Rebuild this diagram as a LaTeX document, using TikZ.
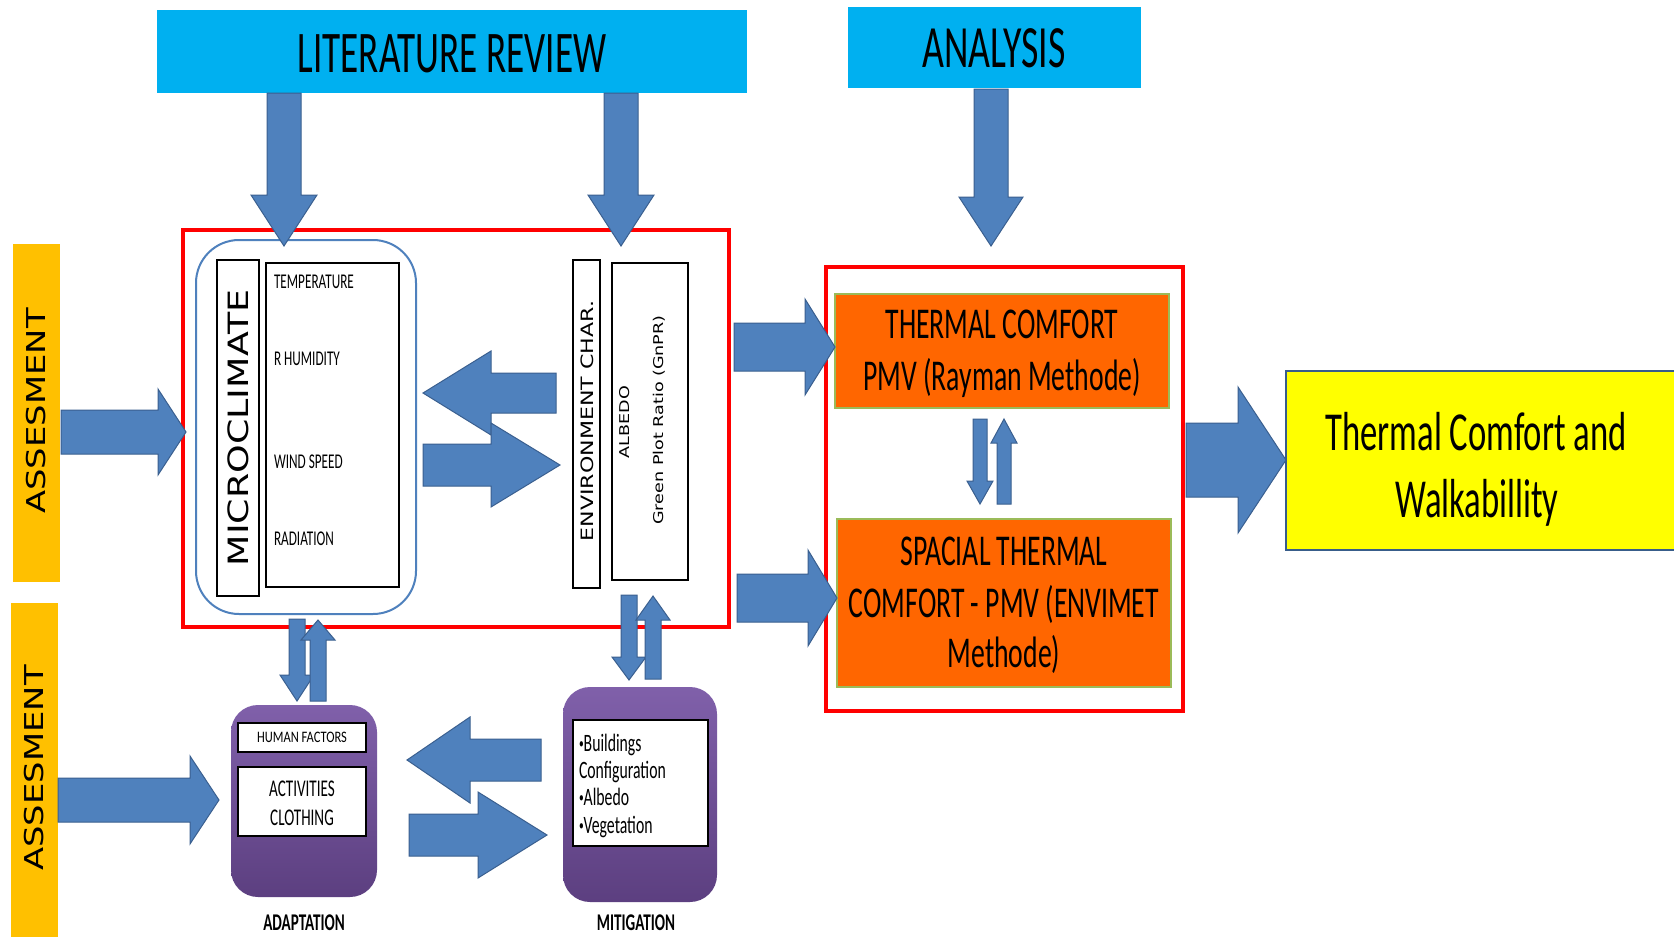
\documentclass[tikz,border=0pt]{standalone}
\usepackage{fontspec}
\setmainfont{Carlito}
\newfontfamily\condfont[FakeStretch=0.63]{Carlito}
\newfontfamily\midfont[FakeStretch=0.78]{Carlito}
\newfontfamily\widefont[FakeStretch=1.3]{DejaVu Sans}

\definecolor{cyanbox}{HTML}{00B0F0}
\definecolor{arrowfill}{HTML}{4F81BD}
\definecolor{arrowline}{HTML}{3A5F8F}
\definecolor{redline}{HTML}{FF0000}
\definecolor{orangebox}{HTML}{FF6600}
\definecolor{greenline}{HTML}{9BBB59}
\definecolor{yellowbox}{HTML}{FFFF00}
\definecolor{yellowline}{HTML}{385D8A}
\definecolor{ambox}{HTML}{FFC000}
\definecolor{purpletop}{HTML}{8060AA}
\definecolor{purplebot}{HTML}{5C3F80}
\definecolor{microline}{HTML}{4F81BD}

% small list bullet
\newcommand{\listdot}{{\fontsize{15}{15}\selectfont\raisebox{2.5pt}{\textbullet}}}

% horizontal block arrow: tail x, head base x, tip x, centre y, shaft half width, head half width
\newcommand{\blockh}[6]{%
  \filldraw[barrow] (#1,{#4-#5}) -- (#2,{#4-#5}) -- (#2,{#4-#6}) -- (#3,#4)
    -- (#2,{#4+#6}) -- (#2,{#4+#5}) -- (#1,{#4+#5}) -- cycle;}
% vertical block arrow: centre x, tail y, head base y, tip y, shaft half width, head half width
\newcommand{\blockv}[6]{%
  \filldraw[barrow] ({#1-#5},#2) -- ({#1-#5},#3) -- ({#1-#6},#3) -- (#1,#4)
    -- ({#1+#6},#3) -- ({#1+#5},#3) -- ({#1+#5},#2) -- cycle;}

\begin{document}
\begin{tikzpicture}[x=1pt,y=-1pt,
  barrow/.style={fill=arrowfill, draw=arrowline, line width=1pt, line join=miter},
  box/.style={rectangle, inner sep=0pt, outer sep=0pt},
  lbl/.style={inner sep=0pt, outer sep=0pt, anchor=base},
  lblw/.style={inner sep=0pt, outer sep=0pt, anchor=base west},
  rot/.style={inner sep=0pt, outer sep=0pt, anchor=center, rotate=90},
  blackbox/.style={box, draw=black, line width=2.5pt, fill=white},
  redframe/.style={box, draw=redline, line width=3.5pt},
  orange/.style={box, fill=orangebox, draw=greenline, line width=1.5pt},
  purplebox/.style={box, rounded corners=27pt, top color=purpletop, bottom color=purplebot},
  ambar/.style={box, fill=ambox},
]
\useasboundingbox (0,0) rectangle (1674,937);
\clip (0,0) rectangle (1674,937);
\fill[white] (0,0) rectangle (1674,937);

% ---------- headers ----------
\node[box, fill=cyanbox, minimum width=590pt, minimum height=83pt] (lit) at (452,51.5) {};
\node[lbl, font=\condfont\fontsize{59}{60}\selectfont] (littext) at (452,72) {LITERATURE REVIEW};
\node[box, fill=cyanbox, minimum width=293pt, minimum height=81pt] (ana) at (994.5,47.5) {};
\node[lbl, font=\condfont\fontsize{60}{60}\selectfont] (anatext) at (994,67) {ANALYSIS};

% ---------- assessment bars ----------
\node[ambar, minimum width=47pt, minimum height=338pt] (ass1) at (36.5,413) {};
\node[rot, font=\widefont\fontsize{26}{26}\selectfont] (ass1text) at (36.5,411) {ASSESMENT};
\node[ambar, minimum width=47pt, minimum height=342pt] (ass2) at (34.5,774) {};
\node[rot, font=\widefont\fontsize{26}{26}\selectfont] (ass2text) at (34.5,768) {ASSESMENT};

% ---------- microclimate / environment group ----------
\node[redframe, minimum width=546pt, minimum height=397pt] (red1) at (456,428.5) {};
\node[box, draw=microline, line width=2pt, rounded corners=43pt,
      minimum width=220pt, minimum height=374pt] (micro) at (306,427) {};
\node[blackbox, minimum width=42pt, minimum height=336pt] (microlbl) at (238,428) {};
\node[rot, font=\widefont\fontsize{28}{28}\selectfont] (microtext) at (238,428) {MICROCLIMATE};
\node[blackbox, minimum width=133pt, minimum height=324pt] (params) at (332.5,425) {};
\node[lblw, font=\condfont\fontsize{21}{21}\selectfont] (ptemp) at (274,288) {TEMPERATURE};
\node[lblw, font=\condfont\fontsize{21}{21}\selectfont] (phum) at (274,365) {R HUMIDITY};
\node[lblw, font=\condfont\fontsize{21}{21}\selectfont] (pwind) at (274,468) {WIND SPEED};
\node[lblw, font=\condfont\fontsize{21}{21}\selectfont] (prad) at (274,545) {RADIATION};

\node[blackbox, minimum width=27pt, minimum height=328pt] (env) at (586.5,424) {};
\node[rot, font=\widefont\fontsize{17}{17}\selectfont] (envtext) at (587,421) {ENVIRONMENT CHAR.};
\node[blackbox, minimum width=76pt, minimum height=317pt] (albedo) at (650,421.5) {};
\node[rot, font=\widefont\fontsize{13.5}{14}\selectfont] (albtext) at (625,422) {ALBEDO};
\node[rot, font=\widefont\fontsize{13.5}{14}\selectfont] (gnprtext) at (659,420) {Green Plot Ratio (GnPR)};

% ---------- thermal comfort group ----------
\node[redframe, minimum width=357pt, minimum height=444pt] (red2) at (1004.5,489) {};
\node[orange, minimum width=334pt, minimum height=114pt] (therm) at (1002,351) {};
\node[lbl, font=\condfont\fontsize{44}{44}\selectfont] (therm1) at (1002,338) {THERMAL COMFORT};
\node[lbl, font=\condfont\fontsize{44}{44}\selectfont] (therm2) at (1002,390) {PMV (Rayman Methode)};
\node[orange, minimum width=334pt, minimum height=168pt] (spac) at (1004,603) {};
\node[lbl, font=\condfont\fontsize{44}{44}\selectfont] (spac1) at (1004,565) {SPACIAL THERMAL};
\node[lbl, font=\condfont\fontsize{44}{44}\selectfont] (spac2) at (1004,617) {COMFORT - PMV (ENVIMET};
\node[lbl, font=\condfont\fontsize{44}{44}\selectfont] (spac3) at (1004,667) {Methode)};

% ---------- result ----------
\node[box, fill=yellowbox, draw=yellowline, line width=2pt,
      minimum width=404pt, minimum height=179pt] (result) at (1488,460.5) {};
\node[lbl, font=\condfont\fontsize{55}{55}\selectfont] (res1) at (1476,450) {Thermal Comfort and};
\node[lbl, font=\condfont\fontsize{55}{55}\selectfont] (res2) at (1477,517) {Walkabillity};

% ---------- adaptation ----------
\node[purplebox, minimum width=146pt, minimum height=192pt] (adapt) at (304,801) {};
\node[blackbox, line width=2pt, minimum width=128pt, minimum height=29pt] (hf) at (302,737.5) {};
\node[lbl, font=\midfont\fontsize{16}{16}\selectfont] (hftext) at (302,742) {HUMAN FACTORS};
\node[blackbox, line width=2pt, minimum width=128pt, minimum height=69pt] (act) at (302,801.5) {};
\node[lbl, font=\condfont\fontsize{24}{24}\selectfont] (act1) at (302,796) {ACTIVITIES};
\node[lbl, font=\condfont\fontsize{24}{24}\selectfont] (act2) at (302,825) {CLOTHING};
\node[lbl, font=\condfont\bfseries\fontsize{24}{24}\selectfont] (adapttext) at (304,930) {ADAPTATION};

% ---------- mitigation ----------
\node[purplebox, minimum width=154pt, minimum height=215pt] (mitig) at (640,794.5) {};
\node[blackbox, line width=2pt, minimum width=135pt, minimum height=126pt] (mitbox) at (640.5,783) {};
\node[lblw, font=\condfont\fontsize{25}{25}\selectfont] (mit1) at (579,751) {\listdot Buildings};
\node[lblw, font=\condfont\fontsize{25}{25}\selectfont] (mit2) at (579,778) {Configuration};
\node[lblw, font=\condfont\fontsize{25}{25}\selectfont] (mit3) at (579,805) {\listdot Albedo};
\node[lblw, font=\condfont\fontsize{25}{25}\selectfont] (mit4) at (579,833) {\listdot Vegetation};
\node[lbl, font=\condfont\bfseries\fontsize{24}{24}\selectfont] (mittext) at (636,930) {MITIGATION};

% ---------- block arrows ----------
% literature review and analysis feeding down
\blockv{284}{93}{195}{246}{17}{33}
\blockv{621}{93}{195}{246}{17}{33}
\blockv{991}{89}{197}{246}{17}{32}
% assessment inputs
\blockh{61}{158}{186}{432}{22}{43}
\blockh{58}{190}{219}{800}{22}{44}
% microclimate <-> environment
\blockh{556}{491}{423}{393}{20}{42}
\blockh{423}{491}{560}{465}{21}{42}
% adaptation <-> mitigation
\blockh{541}{470}{407}{760}{21}{43}
\blockh{409}{478}{547}{835}{21}{43}
% group exchange with adaptation and mitigation
\blockv{297}{619}{675}{701}{8}{17}
\blockv{318}{701}{640}{620}{8}{17}
\blockv{629}{595}{657}{680}{8}{17}
\blockv{653}{679}{620}{596}{8}{17}
% into the thermal comfort boxes
\blockh{734}{805}{835}{347}{24}{48}
\blockh{737}{808}{837}{598}{24}{48}
% between the two thermal comfort boxes
\blockv{980}{419}{481}{504}{7}{13}
\blockv{1004}{504}{443}{419}{7}{13}
% to the result
\blockh{1186}{1238}{1286}{460}{37}{73}
\end{tikzpicture}
\end{document}
